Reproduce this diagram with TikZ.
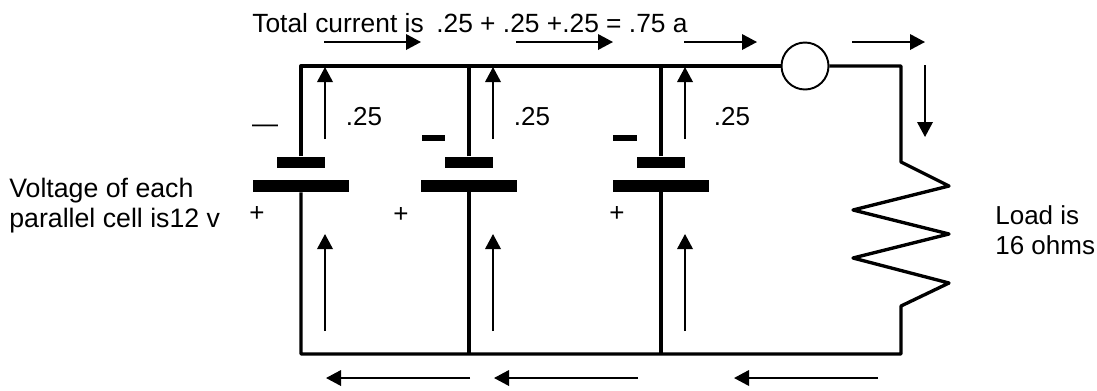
\documentclass[tikz,border=0pt]{standalone}
\usepackage{fontspec}
\setmainfont{Liberation Sans}
\usetikzlibrary{arrows.meta}
\tikzset{
    wire/.style={line width=1.9pt, line join=round},
    flow/.style={line width=1.1pt, -{Triangle[length=0.3cm, width=0.31cm]}},
    shortplate/.style={fill=black, inner sep=0pt, minimum width=0.96cm, minimum height=0.23cm},
    longplate/.style={fill=black, inner sep=0pt, minimum width=1.92cm, minimum height=0.24cm},
    minusbar/.style={fill=black, inner sep=0pt, minimum width=0.47cm, minimum height=0.13cm},
    label/.style={font=\fontsize{14.8pt}{17pt}\selectfont, inner sep=0pt}
}
\begin{document}
\begin{tikzpicture}[x=0.02cm, y=-0.02cm]
    \useasboundingbox (0, 0) rectangle (1097, 390);
    % corners and junctions
    \coordinate (tl) at (301, 66);
    \coordinate (tm) at (469, 66);
    \coordinate (tn) at (661, 66);
    \coordinate (tr) at (901, 66);
    \coordinate (bl) at (301, 354);
    \coordinate (bm) at (469, 354);
    \coordinate (bn) at (661, 354);
    \coordinate (br) at (901, 354);
    % cells
    \node (short1) at (301, 162.5) [shortplate] {};
    \node (short2) at (469, 162.5) [shortplate] {};
    \node (short3) at (661, 162.5) [shortplate] {};
    \node (long1) at (301, 186) [longplate] {};
    \node (long2) at (469, 186) [longplate] {};
    \node (long3) at (661, 186) [longplate] {};
    \node (minus1) at (265, 129) [label] {—};
    \node (minus2) at (433.5, 138) [minusbar] {};
    \node (minus3) at (625, 138) [minusbar] {};
    \node (plus1) at (257, 214) [label] {+};
    \node (plus2) at (401, 215) [label] {+};
    \node (plus3) at (617, 214) [label] {+};
    \node (meter) at (805, 66) [circle, draw, line width=1.1pt, inner sep=0pt, minimum size=0.94cm] {};
    % resistor points
    \coordinate (r1) at (901, 162);
    \coordinate (r2) at (949, 186);
    \coordinate (r3) at (853, 210);
    \coordinate (r4) at (949, 234);
    \coordinate (r5) at (853, 258);
    \coordinate (r6) at (949, 283);
    \coordinate (r7) at (901, 306);
    % wires
    \draw [wire] (short1) -- (tl) -- (meter);
    \draw [wire] (short2) -- (tm);
    \draw [wire] (short3) -- (tn);
    \draw [wire] (meter) -- (tr) -- (r1) -- (r2) -- (r3) -- (r4) -- (r5) -- (r6) -- (r7) -- (br) -- (bl) -- (long1);
    \draw [wire] (long2) -- (bm);
    \draw [wire] (long3) -- (bn);
    % current arrows along the top
    \coordinate (top1a) at (324, 42);
    \coordinate (top1b) at (421, 42);
    \coordinate (top2a) at (516, 42);
    \coordinate (top2b) at (613, 42);
    \coordinate (top3a) at (684, 42);
    \coordinate (top3b) at (757, 42);
    \coordinate (top4a) at (852, 42);
    \coordinate (top4b) at (925, 42);
    \draw [flow] (top1a) -- (top1b);
    \draw [flow] (top2a) -- (top2b);
    \draw [flow] (top3a) -- (top3b);
    \draw [flow] (top4a) -- (top4b);
    % current arrows above the cells
    \coordinate (up1a) at (325, 139);
    \coordinate (up1b) at (325, 67);
    \coordinate (up2a) at (493, 139);
    \coordinate (up2b) at (493, 67);
    \coordinate (up3a) at (685, 139);
    \coordinate (up3b) at (685, 67);
    \draw [flow] (up1a) -- (up1b);
    \draw [flow] (up2a) -- (up2b);
    \draw [flow] (up3a) -- (up3b);
    % current arrows below the cells
    \coordinate (low1a) at (325, 331);
    \coordinate (low1b) at (325, 234);
    \coordinate (low2a) at (493, 331);
    \coordinate (low2b) at (493, 234);
    \coordinate (low3a) at (685, 331);
    \coordinate (low3b) at (685, 234);
    \draw [flow] (low1a) -- (low1b);
    \draw [flow] (low2a) -- (low2b);
    \draw [flow] (low3a) -- (low3b);
    % current arrow into the load
    \coordinate (down1a) at (925, 65);
    \coordinate (down1b) at (925, 137);
    \draw [flow] (down1a) -- (down1b);
    % current arrows along the bottom
    \coordinate (bot1a) at (470, 378);
    \coordinate (bot1b) at (326, 378);
    \coordinate (bot2a) at (638, 378);
    \coordinate (bot2b) at (494, 378);
    \coordinate (bot3a) at (878, 378);
    \coordinate (bot3b) at (734, 378);
    \draw [flow] (bot1a) -- (bot1b);
    \draw [flow] (bot2a) -- (bot2b);
    \draw [flow] (bot3a) -- (bot3b);
    % texts
    \node (total) at (252, 32) [label, anchor=base west, font=\fontsize{15pt}{17pt}\selectfont] {Total current is\hspace{3pt} .25 + .25 +.25 = .75 a};
    \node (amp1) at (364, 117) [label] {.25};
    \node (amp2) at (532, 117) [label] {.25};
    \node (amp3) at (732, 117) [label] {.25};
    \node (volt) at (9, 206) [label, anchor=west, align=left, font=\fontsize{15.2pt}{17pt}\selectfont] {Voltage of each\\parallel cell is12 v};
    \node (load) at (995, 230) [label, anchor=west, align=left] {Load is\\16 ohms};
\end{tikzpicture}
\end{document}
